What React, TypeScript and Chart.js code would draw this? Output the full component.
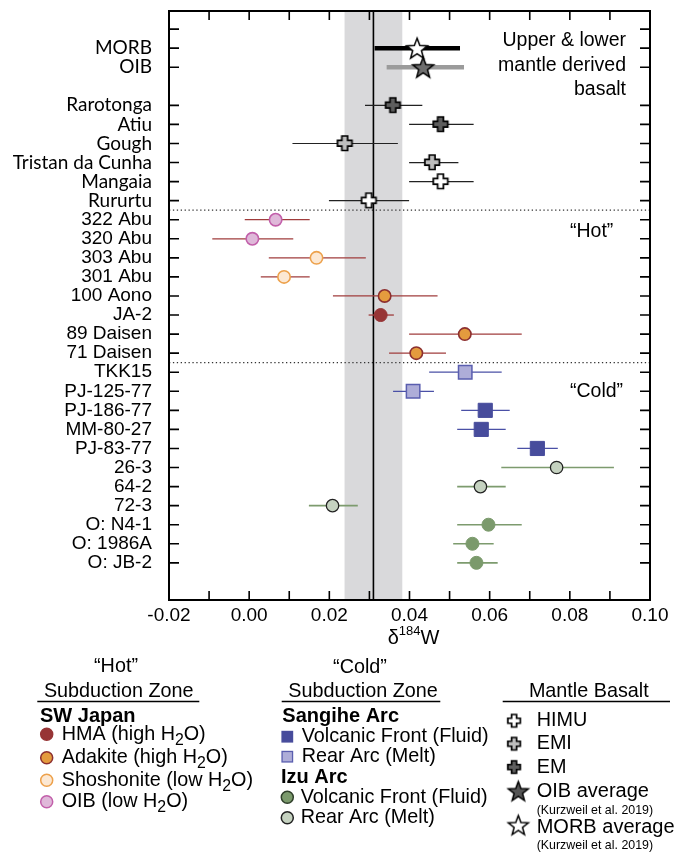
import React, { useEffect, useRef } from 'react';
import { Chart, registerables } from 'chart.js';
Chart.register(...registerables);

const SANS = "'Liberation Sans', Arial, Helvetica, sans-serif";
const HUMANIST = "Lato, 'Open Sans', sans-serif";

// ---- rows (top to bottom) ----
const rowLabels = [
  '', 'MORB', 'OIB', '', 'Rarotonga', 'Atiu', 'Gough', 'Tristan da Cunha', 'Mangaia', 'Rururtu',
  '322 Abu', '320 Abu', '303 Abu', '301 Abu', '100 Aono', 'JA-2', '89 Daisen', '71 Daisen',
  'TKK15', 'PJ-125-77', 'PJ-186-77', 'MM-80-27', 'PJ-83-77', '26-3', '64-2', '72-3',
  'O: N4-1', 'O: 1986A', 'O: JB-2',
];
const tickRows = [0, 1, 2, 4, 5, 6, 7, 8, 9, 10, 11, 12, 13, 14, 15, 16, 17, 18, 19, 20, 21, 22, 23, 24, 25, 26, 27, 28];
const dividerRows = [9.5, 17.5];
const xTickLabels = [-0.02, 0.0, 0.02, 0.04, 0.06, 0.08, 0.1];
const xTickMarks = [-0.01, 0.0, 0.01, 0.02, 0.03, 0.04, 0.05, 0.06, 0.07, 0.08, 0.09];
const refValue = 0.031;
const refBandLow = 0.0238;
const refBandHigh = 0.0382;

// ---- data ----
const morbNames = ['MORB'];
const morbValues = [0.0419];
const morbLow = [0.0313];
const morbHigh = [0.0526];

const oibAvgNames = ['OIB'];
const oibAvgValues = [0.0434];
const oibAvgLow = [0.0343];
const oibAvgHigh = [0.0536];

const emNames = ['Rarotonga', 'Atiu'];
const emValues = [0.0359, 0.0478];
const emLow = [0.0289, 0.0399];
const emHigh = [0.0432, 0.056];

const emiNames = ['Gough', 'Tristan da Cunha'];
const emiValues = [0.0239, 0.0457];
const emiLow = [0.0108, 0.0399];
const emiHigh = [0.0371, 0.0522];

const himuNames = ['Mangaia', 'Rururtu'];
const himuValues = [0.0478, 0.0299];
const himuLow = [0.0399, 0.0199];
const himuHigh = [0.056, 0.0399];

const oibHotNames = ['322 Abu', '320 Abu'];
const oibHotValues = [0.0066, 0.0008];
const oibHotLow = [-0.0011, -0.0092];
const oibHotHigh = [0.0151, 0.011];

const shoshNames = ['303 Abu', '301 Abu'];
const shoshValues = [0.0168, 0.0087];
const shoshLow = [0.0049, 0.0029];
const shoshHigh = [0.0291, 0.0151];

const adakiteNames = ['100 Aono', '89 Daisen', '71 Daisen'];
const adakiteValues = [0.0338, 0.0538, 0.0417];
const adakiteLow = [0.0209, 0.0399, 0.0349];
const adakiteHigh = [0.047, 0.068, 0.0491];

const hmaNames = ['JA-2'];
const hmaValues = [0.0328];
const hmaLow = [0.0298];
const hmaHigh = [0.0361];

const sangRearNames = ['TKK15', 'PJ-125-77'];
const sangRearValues = [0.0539, 0.0409];
const sangRearLow = [0.0449, 0.0359];
const sangRearHigh = [0.063, 0.0461];

const sangVFNames = ['PJ-186-77', 'MM-80-27', 'PJ-83-77'];
const sangVFValues = [0.0589, 0.0579, 0.0719];
const sangVFLow = [0.0529, 0.0519, 0.0669];
const sangVFHigh = [0.065, 0.064, 0.077];

const izuRearNames = ['26-3', '64-2', '72-3'];
const izuRearValues = [0.0767, 0.0577, 0.0208];
const izuRearLow = [0.0629, 0.0519, 0.0149];
const izuRearHigh = [0.091, 0.064, 0.0271];

const izuVFNames = ['O: N4-1', 'O: 1986A', 'O: JB-2'];
const izuVFValues = [0.0597, 0.0557, 0.0567];
const izuVFLow = [0.0519, 0.0509, 0.0519];
const izuVFHigh = [0.068, 0.061, 0.062];

// ---- colours ----
const C = {
  pinkFill: '#dfb8d9', pinkStroke: '#c25faa',
  shoshFill: '#fce8d3', shoshStroke: '#eda14b',
  adaFill: '#e49b3e', adaStroke: '#8c2f2f',
  hma: '#973536',
  hotBar: '#a03c3c',
  sangVF: '#474c9c', sangRearFill: '#aeadd8', sangRearStroke: '#5a5eaf', blueBar: '#4a50a6',
  izuVF: '#7b9a6c', izuRearFill: '#c5d2c0', greenBar: '#7d9b6e',
  himu: '#ffffff', emi: '#bdbdbd', em: '#5e5e5e', oibStar: '#6e6e6e',
};

function makeCross(fill: string, size: number) {
  const pad = 2;
  const c = document.createElement('canvas');
  c.width = c.height = Math.ceil(size + pad * 2);
  const g = c.getContext('2d')!;
  const t = size * 0.4;
  const a = (size - t) / 2;
  const o = pad;
  g.beginPath();
  g.moveTo(o + a, o);
  g.lineTo(o + a + t, o);
  g.lineTo(o + a + t, o + a);
  g.lineTo(o + size, o + a);
  g.lineTo(o + size, o + a + t);
  g.lineTo(o + a + t, o + a + t);
  g.lineTo(o + a + t, o + size);
  g.lineTo(o + a, o + size);
  g.lineTo(o + a, o + a + t);
  g.lineTo(o, o + a + t);
  g.lineTo(o, o + a);
  g.lineTo(o + a, o + a);
  g.closePath();
  g.fillStyle = fill;
  g.fill();
  g.lineWidth = 1.7;
  g.strokeStyle = '#000';
  g.stroke();
  return c;
}

function makeStar(fill: string, R: number) {
  const pad = 2;
  const c = document.createElement('canvas');
  const s = Math.ceil(R * 2 + pad * 2);
  c.width = c.height = s;
  const g = c.getContext('2d')!;
  const cx = s / 2;
  const cy = s / 2 + R * 0.1;
  g.beginPath();
  for (let i = 0; i < 10; i++) {
    const r = i % 2 === 0 ? R : R * 0.42;
    const ang = -Math.PI / 2 + (i * Math.PI) / 5;
    const px = cx + r * Math.cos(ang);
    const py = cy + r * Math.sin(ang);
    if (i === 0) g.moveTo(px, py);
    else g.lineTo(px, py);
  }
  g.closePath();
  g.fillStyle = fill;
  g.fill();
  g.lineWidth = 1.5;
  g.strokeStyle = '#000';
  g.lineJoin = 'miter';
  g.stroke();
  return c;
}

// draw text where "_x" makes x a subscript
function drawRich(ctx: CanvasRenderingContext2D, str: string, x: number, y: number, size: number, align: 'left' | 'center' = 'left', bold = false) {
  const parts = str.split('_');
  const segs: { t: string; sub: boolean }[] = [];
  parts.forEach((p, i) => {
    if (i === 0) segs.push({ t: p, sub: false });
    else {
      segs.push({ t: p.charAt(0), sub: true });
      segs.push({ t: p.slice(1), sub: false });
    }
  });
  const fontN = `${bold ? 'bold ' : ''}${size}px ${SANS}`;
  const fontS = `${bold ? 'bold ' : ''}${size * 0.8}px ${SANS}`;
  let total = 0;
  segs.forEach((s) => {
    ctx.font = s.sub ? fontS : fontN;
    total += ctx.measureText(s.t).width;
  });
  let cx = align === 'center' ? x - total / 2 : x;
  ctx.textAlign = 'left';
  ctx.textBaseline = 'middle';
  segs.forEach((s) => {
    ctx.font = s.sub ? fontS : fontN;
    ctx.fillText(s.t, cx, s.sub ? y + size * 0.3 : y);
    cx += ctx.measureText(s.t).width;
  });
}

export default function App() {
  const ref = useRef<HTMLCanvasElement | null>(null);

  useEffect(() => {
    const canvas = ref.current;
    if (!canvas) return;

    const crossHimu = makeCross(C.himu, 14.5);
    const crossEmi = makeCross(C.emi, 14.5);
    const crossEm = makeCross(C.em, 14.5);
    const starMorb = makeStar('#ffffff', 11);
    const starOib = makeStar(C.oibStar, 11);
    const lgCrossHimu = makeCross(C.himu, 12.5);
    const lgCrossEmi = makeCross(C.emi, 12.5);
    const lgCrossEm = makeCross(C.em, 12.5);
    const lgStarMorb = makeStar('#ffffff', 10.5);
    const lgStarOib = makeStar('#555555', 10.5);

    const rowOf = (n: string) => rowLabels.indexOf(n);

    const groups = [
      { names: morbNames, values: morbValues, low: morbLow, high: morbHigh, style: starMorb, r: 10, fill: '#fff', stroke: '#000', bw: 0, bar: '#000', barW: 4.5 },
      { names: oibAvgNames, values: oibAvgValues, low: oibAvgLow, high: oibAvgHigh, style: starOib, r: 10, fill: C.oibStar, stroke: '#000', bw: 0, bar: '#9b9b9b', barW: 4.5 },
      { names: emNames, values: emValues, low: emLow, high: emHigh, style: crossEm, r: 8, fill: C.em, stroke: '#000', bw: 0, bar: '#222', barW: 1.2 },
      { names: emiNames, values: emiValues, low: emiLow, high: emiHigh, style: crossEmi, r: 8, fill: C.emi, stroke: '#000', bw: 0, bar: '#222', barW: 1.2 },
      { names: himuNames, values: himuValues, low: himuLow, high: himuHigh, style: crossHimu, r: 8, fill: C.himu, stroke: '#000', bw: 0, bar: '#222', barW: 1.2 },
      { names: oibHotNames, values: oibHotValues, low: oibHotLow, high: oibHotHigh, style: 'circle', r: 6.2, fill: C.pinkFill, stroke: C.pinkStroke, bw: 1.6, bar: C.hotBar, barW: 1.3 },
      { names: shoshNames, values: shoshValues, low: shoshLow, high: shoshHigh, style: 'circle', r: 6.2, fill: C.shoshFill, stroke: C.shoshStroke, bw: 1.6, bar: C.hotBar, barW: 1.3 },
      { names: adakiteNames, values: adakiteValues, low: adakiteLow, high: adakiteHigh, style: 'circle', r: 6.2, fill: C.adaFill, stroke: C.adaStroke, bw: 1.6, bar: C.hotBar, barW: 1.3 },
      { names: hmaNames, values: hmaValues, low: hmaLow, high: hmaHigh, style: 'circle', r: 6.5, fill: C.hma, stroke: C.hma, bw: 1, bar: C.hotBar, barW: 1.3 },
      { names: sangRearNames, values: sangRearValues, low: sangRearLow, high: sangRearHigh, style: 'rect', r: 9.5, fill: C.sangRearFill, stroke: C.sangRearStroke, bw: 1.5, bar: C.blueBar, barW: 1.3 },
      { names: sangVFNames, values: sangVFValues, low: sangVFLow, high: sangVFHigh, style: 'rect', r: 10, fill: C.sangVF, stroke: C.sangVF, bw: 1, bar: C.blueBar, barW: 1.3 },
      { names: izuRearNames, values: izuRearValues, low: izuRearLow, high: izuRearHigh, style: 'circle', r: 6.2, fill: C.izuRearFill, stroke: '#222', bw: 1.3, bar: C.greenBar, barW: 1.6 },
      { names: izuVFNames, values: izuVFValues, low: izuVFLow, high: izuVFHigh, style: 'circle', r: 6.5, fill: C.izuVF, stroke: C.izuVF, bw: 1, bar: C.greenBar, barW: 1.6 },
    ];

    const datasets = groups.map((g) => ({
      data: g.names.map((n, i) => ({ x: g.values[i], y: rowOf(n) })),
      pointStyle: g.style as any,
      pointRadius: g.r,
      pointBackgroundColor: g.fill,
      pointBorderColor: g.stroke,
      pointBorderWidth: g.bw,
      showLine: false,
    }));

    const decor = {
      id: 'decor',
      beforeDatasetsDraw(chart: any) {
        const { ctx, chartArea: a } = chart;
        const x = chart.scales.x;
        const y = chart.scales.y;
        ctx.save();
        // reference band
        const b1 = x.getPixelForValue(refBandLow);
        const b2 = x.getPixelForValue(refBandHigh);
        ctx.fillStyle = '#d9d9db';
        ctx.fillRect(b1, a.top, b2 - b1, a.bottom - a.top);
        // dotted dividers
        ctx.strokeStyle = '#333';
        ctx.lineWidth = 1.3;
        ctx.setLineDash([1.3, 2.6]);
        dividerRows.forEach((r) => {
          const py = y.getPixelForValue(r);
          ctx.beginPath();
          ctx.moveTo(a.left, py);
          ctx.lineTo(a.right, py);
          ctx.stroke();
        });
        ctx.setLineDash([]);
        // reference line
        const rx = x.getPixelForValue(refValue);
        ctx.strokeStyle = '#000';
        ctx.lineWidth = 1.6;
        ctx.beginPath();
        ctx.moveTo(rx, a.top);
        ctx.lineTo(rx, a.bottom);
        ctx.stroke();
        // error bars
        groups.forEach((g) => {
          ctx.strokeStyle = g.bar;
          ctx.lineWidth = g.barW;
          g.names.forEach((n, i) => {
            const py = y.getPixelForValue(rowOf(n));
            ctx.beginPath();
            ctx.moveTo(x.getPixelForValue(g.low[i]), py);
            ctx.lineTo(x.getPixelForValue(g.high[i]), py);
            ctx.stroke();
          });
        });
        ctx.restore();
      },
      afterDraw(chart: any) {
        const { ctx, chartArea: a } = chart;
        const x = chart.scales.x;
        const y = chart.scales.y;
        ctx.save();
        // ticks inside
        ctx.strokeStyle = '#000';
        ctx.lineWidth = 1.6;
        xTickMarks.forEach((v) => {
          const px = x.getPixelForValue(v);
          ctx.beginPath();
          ctx.moveTo(px, a.top);
          ctx.lineTo(px, a.top + 9);
          ctx.moveTo(px, a.bottom);
          ctx.lineTo(px, a.bottom - 9);
          ctx.stroke();
        });
        tickRows.forEach((r) => {
          const py = y.getPixelForValue(r);
          ctx.beginPath();
          ctx.moveTo(a.left, py);
          ctx.lineTo(a.left + 10, py);
          ctx.moveTo(a.right, py);
          ctx.lineTo(a.right - 10, py);
          ctx.stroke();
        });
        // frame
        ctx.lineWidth = 2;
        ctx.strokeRect(a.left, a.top, a.right - a.left, a.bottom - a.top);

        // in-plot annotations
        ctx.fillStyle = '#000';
        ctx.textBaseline = 'middle';
        ctx.font = `19.5px ${SANS}`;
        ctx.textAlign = 'right';
        ctx.fillText('Upper & lower', 626, 41);
        ctx.fillText('mantle derived', 626, 65.5);
        ctx.fillText('basalt', 626, 90);
        ctx.textAlign = 'left';
        ctx.fillText('\u201CHot\u201D', 570, 232);
        ctx.fillText('\u201CCold\u201D', 570, 392);

        // axis title δ184W
        ctx.font = `20px ${SANS}`;
        const wD = ctx.measureText('\u03B4').width;
        const wW = ctx.measureText('W').width;
        ctx.font = `13px ${SANS}`;
        const wS = ctx.measureText('184').width;
        const tot = wD + wS + wW;
        let tx = 413.5 - tot / 2;
        const ty = 638;
        ctx.font = `20px ${SANS}`;
        ctx.fillText('\u03B4', tx, ty);
        tx += wD;
        ctx.font = `13px ${SANS}`;
        ctx.fillText('184', tx, ty - 7);
        tx += wS;
        ctx.font = `20px ${SANS}`;
        ctx.fillText('W', tx, ty);

        // ---- legend ----
        const LS = 19.8;
        drawRich(ctx, '\u201CHot\u201D', 116, 667, LS, 'center');
        drawRich(ctx, '\u201CCold\u201D', 360, 668, LS, 'center');
        drawRich(ctx, 'Subduction Zone', 118.7, 691.3, LS, 'center');
        drawRich(ctx, 'Subduction Zone', 363, 691.3, LS, 'center');
        drawRich(ctx, 'Mantle Basalt', 588.8, 691.3, LS, 'center');
        ctx.lineWidth = 1.5;
        ctx.strokeStyle = '#000';
        [[37.3, 199.3], [281.7, 440.3], [502.7, 670]].forEach(([l, r]) => {
          ctx.beginPath();
          ctx.moveTo(l, 701.5);
          ctx.lineTo(r, 701.5);
          ctx.stroke();
        });

        const circle = (cx: number, cy: number, r: number, fill: string, stroke: string) => {
          ctx.beginPath();
          ctx.arc(cx, cy, r, 0, Math.PI * 2);
          ctx.fillStyle = fill;
          ctx.fill();
          ctx.lineWidth = 1.5;
          ctx.strokeStyle = stroke;
          ctx.stroke();
        };
        const square = (cx: number, cy: number, s: number, fill: string, stroke: string) => {
          ctx.fillStyle = fill;
          ctx.fillRect(cx - s / 2, cy - s / 2, s, s);
          ctx.lineWidth = 1.3;
          ctx.strokeStyle = stroke;
          ctx.strokeRect(cx - s / 2, cy - s / 2, s, s);
        };
        const img = (c: HTMLCanvasElement, cx: number, cy: number) => {
          ctx.drawImage(c, cx - c.width / 2, cy - c.height / 2);
        };

        // left column
        ctx.fillStyle = '#000';
        drawRich(ctx, 'SW Japan', 40, 716.7, 20, 'left', true);
        circle(46.7, 734.3, 6, C.hma, C.hma);
        circle(46.7, 757.7, 6, C.adaFill, C.adaStroke);
        circle(46.7, 780.3, 6, C.shoshFill, C.shoshStroke);
        circle(46.7, 801.7, 6, C.pinkFill, C.pinkStroke);
        ctx.fillStyle = '#000';
        drawRich(ctx, 'HMA (high H_2O)', 61.7, 734.3, LS);
        drawRich(ctx, 'Adakite (high H_2O)', 61.7, 757.7, LS);
        drawRich(ctx, 'Shoshonite (low H_2O)', 61.7, 780.3, LS);
        drawRich(ctx, 'OIB (low H_2O)', 61.7, 801.7, LS);

        // middle column
        ctx.fillStyle = '#000';
        drawRich(ctx, 'Sangihe Arc', 282.3, 716, 20, 'left', true);
        square(287.3, 736.7, 10.5, C.sangVF, C.sangVF);
        square(287.3, 756.7, 10.5, C.sangRearFill, C.sangRearStroke);
        ctx.fillStyle = '#000';
        drawRich(ctx, 'Volcanic Front (Fluid)', 301.7, 736.7, LS);
        drawRich(ctx, 'Rear Arc (Melt)', 301.7, 756.7, LS);
        drawRich(ctx, 'Izu Arc', 281, 777.7, 20, 'left', true);
        circle(287.3, 797.3, 6, C.izuVF, '#2f3f2a');
        circle(287.3, 817.7, 6, C.izuRearFill, '#222');
        ctx.fillStyle = '#000';
        drawRich(ctx, 'Volcanic Front (Fluid)', 300.7, 797.3, LS);
        drawRich(ctx, 'Rear Arc (Melt)', 300.7, 817.7, LS);

        // right column
        img(lgCrossHimu, 514.3, 721);
        img(lgCrossEmi, 514.3, 744);
        img(lgCrossEm, 514.3, 767.3);
        img(lgStarOib, 518.3, 791);
        img(lgStarMorb, 518.3, 825);
        ctx.fillStyle = '#000';
        drawRich(ctx, 'HIMU', 536.7, 721, LS);
        drawRich(ctx, 'EMI', 536.7, 744, LS);
        drawRich(ctx, 'EM', 536.7, 767.3, LS);
        drawRich(ctx, 'OIB average', 536.7, 791.7, 20);
        drawRich(ctx, '(Kurzweil et al. 2019)', 536.7, 810.7, 12.4);
        drawRich(ctx, 'MORB average', 536.7, 827.7, 20);
        drawRich(ctx, '(Kurzweil et al. 2019)', 536.7, 846, 12.4);

        ctx.restore();
      },
    };

    const chart = new Chart(canvas, {
      type: 'scatter',
      data: { datasets: datasets as any },
      options: {
        responsive: false,
        animation: false,
        devicePixelRatio: 1,
        layout: { padding: { top: 10, right: 37, bottom: 216, left: 0 } },
        plugins: { legend: { display: false }, tooltip: { enabled: false } },
        scales: {
          x: {
            type: 'linear',
            position: 'bottom',
            min: -0.02,
            max: 0.1,
            afterBuildTicks: (s: any) => {
              s.ticks = xTickLabels.map((v) => ({ value: v }));
            },
            afterFit: (s: any) => {
              s.height = 40;
              s.paddingLeft = 0;
              s.paddingRight = 0;
            },
            grid: { display: false, drawTicks: false },
            border: { display: false },
            ticks: {
              autoSkip: false,
              maxRotation: 0,
              padding: 4,
              color: '#000',
              font: { family: SANS, size: 19 },
              callback: (v: any) => Number(v).toFixed(2),
            },
          },
          y: {
            type: 'linear',
            reverse: true,
            min: -0.95,
            max: 29.95,
            afterBuildTicks: (s: any) => {
              s.ticks = tickRows.map((v) => ({ value: v }));
            },
            afterFit: (s: any) => {
              s.width = 169;
              s.paddingTop = 0;
              s.paddingBottom = 0;
            },
            grid: { display: false, drawTicks: false },
            border: { display: false },
            ticks: {
              autoSkip: false,
              padding: 17,
              color: '#000',
              font: (c: any) => ({
                family: c.tick && c.tick.value >= 1 && c.tick.value <= 9 ? HUMANIST : SANS,
                size: 19,
              }),
              callback: (v: any) => rowLabels[v as number] ?? '',
            },
          },
        },
      },
      plugins: [decor],
    });

    return () => chart.destroy();
  }, []);

  return (
    <div style={{ position: 'absolute', left: 0, top: 0, width: 687, height: 856, background: '#fff' }}>
      <canvas ref={ref} width={687} height={856} style={{ display: 'block', width: 687, height: 856 }} />
    </div>
  );
}
